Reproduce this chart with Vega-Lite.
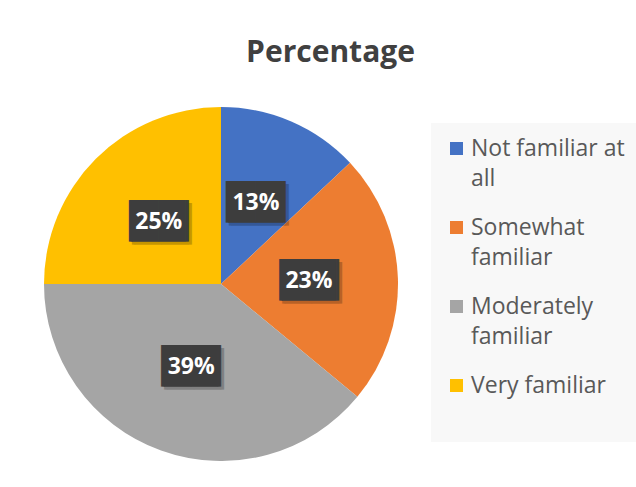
{
  "$schema": "https://vega.github.io/schema/vega-lite/v6.json",
  "width": 354,
  "height": 354,
  "padding": {"left": 44, "top": 38, "right": 0, "bottom": 0},
  "background": "white",
  "title": {
    "text": "Percentage",
    "font": "Open Sans",
    "fontSize": 30,
    "fontWeight": "bold",
    "color": "#404040",
    "anchor": "middle",
    "frame": "bounds",
    "offset": 39,
    "dx": -11
  },
  "data": {
    "values": [
      {"category": "Not familiar at all", "value": 0.13, "order": 1},
      {"category": "Somewhat familiar", "value": 0.23, "order": 2},
      {"category": "Moderately familiar", "value": 0.39, "order": 3},
      {"category": "Very familiar", "value": 0.25, "order": 4}
    ]
  },
  "encoding": {
    "theta": {"field": "value", "type": "quantitative", "stack": true},
    "order": {"field": "order", "type": "quantitative"}
  },
  "layer": [
    {
      "mark": {"type": "arc", "radius": 177},
      "encoding": {
        "color": {
          "field": "category",
          "type": "nominal",
          "scale": {
            "domain": ["Not familiar at all", "Somewhat familiar", "Moderately familiar", "Very familiar"],
            "range": ["#4472C4", "#ED7D31", "#A5A5A5", "#FFC000"]
          },
          "legend": {
            "orient": "none",
            "legendX": 387,
            "legendY": 16,
            "title": null,
            "fillColor": "#f8f8f8",
            "padding": 14,
            "symbolType": "square",
            "symbolSize": 169,
            "symbolStrokeWidth": 0,
            "labelFont": "Open Sans",
            "labelFontSize": 23,
            "labelColor": "#595959",
            "labelOffset": 3,
            "labelLimit": 400,
            "rowPadding": 25,
            "labelExpr": "datum.label == 'Not familiar at all' ? ['Not familiar at', 'all'] : datum.label == 'Somewhat familiar' ? ['Somewhat', 'familiar'] : datum.label == 'Moderately familiar' ? ['Moderately', 'familiar'] : ['Very familiar', '']",
            "encode": {"labels": {"update": {"lineHeight": {"value": 30}}}}
          }
        }
      }
    },
    {
      "mark": {"type": "text", "radius": 88, "text": "▕██▏", "font": "DejaVu Sans", "fontSize": 35, "color": "#000000", "opacity": 0.22, "dx": 3, "dy": 3, "align": "center", "baseline": "middle"}
    },
    {
      "mark": {"type": "text", "radius": 88, "text": "▕██▏", "font": "DejaVu Sans", "fontSize": 35, "color": "#3d3d3d", "align": "center", "baseline": "middle"}
    },
    {
      "mark": {"type": "text", "radius": 88, "font": "Open Sans", "fontSize": 23, "fontWeight": "bold", "color": "white", "align": "center", "baseline": "middle"},
      "encoding": {"text": {"field": "value", "type": "quantitative", "format": ".0%"}}
    }
  ],
  "config": {"view": {"stroke": null}}
}
